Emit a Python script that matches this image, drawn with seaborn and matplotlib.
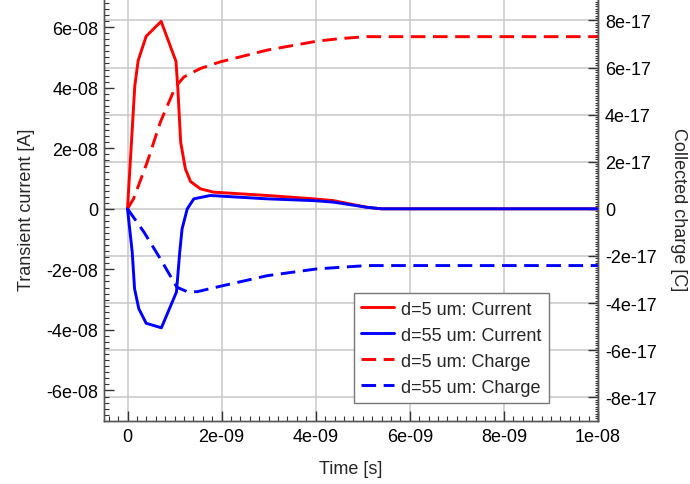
import numpy as np
import pandas as pd
import matplotlib
matplotlib.use("Agg")
import matplotlib.pyplot as plt
import seaborn as sns
from matplotlib.ticker import MultipleLocator, FuncFormatter, FixedLocator

# --- datos ---
t_cur_5 = [0, 0.155e-9, 0.227e-9, 0.397e-9, 0.715e-9, 1.03e-9, 1.07e-9, 1.13e-9,
           1.23e-9, 1.34e-9, 1.55e-9, 1.83e-9, 2.97e-9, 3.96e-9, 4.38e-9, 5.09e-9,
           5.4e-9, 1e-8]
cur_5 = [0, 4.06e-8, 4.9e-8, 5.7e-8, 6.19e-8, 4.87e-8, 3.97e-8, 2.2e-8,
         1.32e-8, 0.9e-8, 0.66e-8, 0.55e-8, 0.44e-8, 0.33e-8, 0.27e-8, 0.05e-8,
         0, 0]

t_cur_55 = [0, 0.1e-9, 0.15e-9, 0.24e-9, 0.397e-9, 0.72e-9, 1.04e-9, 1.11e-9,
            1.16e-9, 1.27e-9, 1.41e-9, 1.76e-9, 2.96e-9, 3.96e-9, 4.38e-9, 5.09e-9,
            5.4e-9, 1e-8]
cur_55 = [0, -1.43e-8, -2.64e-8, -3.3e-8, -3.78e-8, -3.93e-8, -2.75e-8, -1.43e-8,
          -0.66e-8, 0, 0.33e-8, 0.44e-8, 0.33e-8, 0.27e-8, 0.22e-8, 0.05e-8,
          0, 0]

t_chg_5 = [0, 0.13e-9, 0.42e-9, 0.7e-9, 1.02e-9, 1.2e-9, 1.55e-9, 1.97e-9,
           2.97e-9, 4.03e-9, 4.52e-9, 5.09e-9, 1e-8]
chg_5 = [0, 0.43e-17, 1.99e-17, 3.69e-17, 5.18e-17, 5.6e-17, 5.96e-17, 6.24e-17,
         6.74e-17, 7.12e-17, 7.23e-17, 7.31e-17, 7.31e-17]

t_chg_55 = [0, 0.35e-9, 0.7e-9, 1.05e-9, 1.27e-9, 1.48e-9, 1.97e-9, 2.97e-9,
            4.03e-9, 5.09e-9, 1e-8]
chg_55 = [0, -0.99e-17, -2.13e-17, -3.33e-17, -3.52e-17, -3.52e-17, -3.29e-17,
          -2.84e-17, -2.55e-17, -2.41e-17, -2.41e-17]

labels = ["d=5 um: Current", "d=55 um: Current", "d=5 um: Charge", "d=55 um: Charge"]


def _fmt(v, pos):
    # "6e-08" en lugar de "6.0e-08", y "0" para el cero
    if abs(v) < 1e-30:
        return "0"
    return f"{v:.0e}"


def _ticks_in(step, lo, hi):
    # ticks multiplos de step que caen dentro de los limites (sin extras fuera)
    vals = MultipleLocator(step).tick_values(lo, hi)
    return FixedLocator([v for v in vals if lo - 1e-6 * step <= v <= hi + 1e-6 * step])


sns.set_theme(style="ticks")
plt.rcParams['font.family'] = ['Liberation Sans', 'DejaVu Sans']

fig = plt.figure(figsize=(6.9, 4.85), dpi=100)
ax2 = fig.add_axes([0.1507, 0.1304, 0.716, 0.874])  # eje derecho (carga), fondo
ax = ax2.twinx()  # truco: ax arriba para que las corrientes queden encima
ax.yaxis.tick_left()
ax.yaxis.set_label_position("left")
ax2.yaxis.tick_right()
ax2.yaxis.set_label_position("right")
ax.patch.set_visible(False)

lw = 2.1
dash = (0, (5, 2.6))
sns.lineplot(x=t_chg_5, y=chg_5, ax=ax2, color="#ff0000", lw=lw,
             linestyle=dash, estimator=None, sort=False)
sns.lineplot(x=t_chg_55, y=chg_55, ax=ax2, color="#0000ff", lw=lw,
             linestyle=dash, estimator=None, sort=False)
sns.lineplot(x=t_cur_5, y=cur_5, ax=ax, color="#ff0000", lw=lw, estimator=None, sort=False)
sns.lineplot(x=t_cur_55, y=cur_55, ax=ax, color="#0000ff", lw=lw, estimator=None, sort=False)

# --- ejes ---
xlim = (-0.5e-9, 1e-8)
ylim_i = (-7e-8, 7e-8)
ylim_q = (-9e-17, 9e-17)
ax.set_xlim(*xlim)
ax.set_ylim(*ylim_i)
ax2.set_ylim(*ylim_q)

ax.yaxis.set_major_locator(_ticks_in(2e-8, *ylim_i))
ax.yaxis.set_minor_locator(MultipleLocator(2e-9))
ax2.yaxis.set_major_locator(_ticks_in(2e-17, *ylim_q))
ax2.yaxis.set_minor_locator(MultipleLocator(1e-18))
ax2.xaxis.set_major_locator(_ticks_in(2e-9, *xlim))
ax2.xaxis.set_minor_locator(MultipleLocator(2e-10))
for a in (ax, ax2):
    a.yaxis.set_major_formatter(FuncFormatter(_fmt))
    a.yaxis.get_offset_text().set_visible(False)
    a.xaxis.get_offset_text().set_visible(False)
ax2.xaxis.set_major_formatter(FuncFormatter(_fmt))

fs = 13
ax.tick_params(axis="y", which="both", direction="in", labelsize=fs, colors="#333333",
               labelcolor="black", pad=4)
ax.tick_params(axis="y", which="major", length=7, width=1)
ax.tick_params(axis="y", which="minor", length=3.5, width=0.8)
ax.tick_params(axis="x", which="both", bottom=False, top=False,
               labelbottom=False, labeltop=False)
ax2.tick_params(axis="both", which="both", direction="in", labelsize=fs, colors="#333333",
                labelcolor="black", pad=5)
ax2.tick_params(axis="both", which="major", length=7, width=1)
ax2.tick_params(axis="both", which="minor", length=3.5, width=0.8)
ax2.tick_params(axis="y", which="minor", length=2.5)

ax2.grid(True, which="major", color="#c8c8c8", lw=1.1)
ax2.set_axisbelow(True)

for a in (ax, ax2):
    for s in a.spines.values():
        s.set_color("#555555")
        s.set_linewidth(1)

ax.set_ylabel("Transient current [A]", fontsize=fs, labelpad=8)
ax2.set_ylabel("Collected charge [C]", fontsize=fs, rotation=270, labelpad=22)
ax2.set_xlabel("Time [s]", fontsize=fs, labelpad=11)

# --- leyenda ---
h_cur = ax.get_lines()
h_chg = ax2.get_lines()
handles = [h_cur[0], h_cur[1], h_chg[0], h_chg[1]]
leg = ax.legend(handles, labels, loc="lower left", bbox_to_anchor=(0.506, 0.042),
                fontsize=fs, frameon=True, fancybox=False, framealpha=1,
                edgecolor="#777777", borderpad=0.4, labelspacing=0.5,
                handlelength=1.8, handletextpad=0.4, borderaxespad=0)
leg.get_frame().set_linewidth(1)

fig.savefig("out.png", dpi=100)
